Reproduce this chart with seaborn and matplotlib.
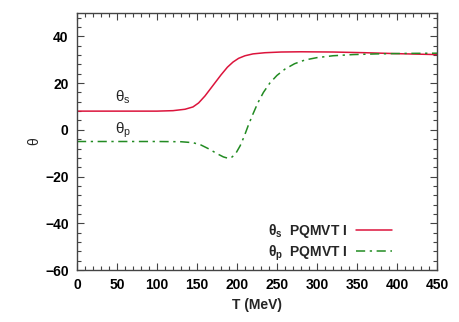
import numpy as np
import pandas as pd
import matplotlib.pyplot as plt
import matplotlib
import seaborn as sns

# values
T_s = [0, 50, 100, 120, 135, 145, 152, 160, 170, 180, 188, 195, 202, 210, 220, 235, 255, 280, 320, 360, 400, 450]
theta_s = [8, 8, 8, 8.2, 8.8, 9.8, 11.5, 14.5, 19, 23.5, 26.8, 29, 30.6, 31.7, 32.5, 33, 33.3, 33.4, 33.3, 33, 32.6, 32.2]

T_p = [0, 50, 100, 130, 145, 155, 165, 175, 183, 189, 194, 199, 204, 209, 214, 220, 226, 233, 241,
       250, 260, 272, 285, 300, 320, 345, 375, 410, 450]
theta_p = [-5, -5, -5, -5.1, -5.5, -6.5, -8.2, -10.2, -11.6, -12.2, -11.6, -9.8, -6.8, -2.8, 1.8, 6.8, 11.5, 16, 20,
           23.3, 26, 28.3, 29.9, 30.9, 31.7, 32.2, 32.5, 32.7, 32.8]

sns.set_style("ticks")
plt.rcParams['font.family'] = ['Liberation Sans', 'DejaVu Sans']

fig, ax = plt.subplots(figsize=(4.6, 3.22), dpi=100)
plt.gcf().subplots_adjust(left=77/460, right=437/460, top=1-13/322, bottom=1-270/322)

df_s = pd.DataFrame({'T': T_s, 'theta': theta_s})
df_p = pd.DataFrame({'T': T_p, 'theta': theta_p})
sns.lineplot(data=df_s, x='T', y='theta', color='#dc143c', lw=1.1, ax=ax,
             label=r'θ$_\mathregular{s}$  PQMVT I')
sns.lineplot(data=df_p, x='T', y='theta', color='#228b22', lw=1.1, ax=ax,
             label=r'θ$_\mathregular{p}$  PQMVT I')
ax.get_lines()[1].set_linestyle((0, (6, 3, 1.5, 3)))

ax.set_xlim(0, 450)
ax.set_ylim(-60, 50)
ax.xaxis.set_major_locator(matplotlib.ticker.MultipleLocator(50))
ax.xaxis.set_minor_locator(matplotlib.ticker.MultipleLocator(10))
ax.yaxis.set_major_locator(matplotlib.ticker.MultipleLocator(20))
ax.yaxis.set_minor_locator(matplotlib.ticker.MultipleLocator(4))
ax.tick_params(which='both', direction='in', top=True, right=True, color='#444444', width=0.8)
ax.tick_params(which='major', length=5, labelsize=10, pad=6, labelcolor='black')
ax.tick_params(which='minor', length=3)
for lab in ax.get_xticklabels() + ax.get_yticklabels():
    lab.set_fontweight('bold')
for sp in ax.spines.values():
    sp.set_color('#444444')
    sp.set_linewidth(1)

ax.set_xlabel('T (MeV)', fontsize=10, fontweight='bold', labelpad=4)
ax.set_ylabel('θ', fontsize=10, labelpad=3)

ax.text(57, 14, r'θ$_\mathregular{s}$', fontsize=11, ha='center', va='center')
ax.text(57, 0, r'θ$_\mathregular{p}$', fontsize=11, ha='center', va='center')

leg = ax.legend(loc='lower right', bbox_to_anchor=(0.91, -0.02), frameon=False,
                markerfirst=False, handlelength=2.6, fontsize=10, labelspacing=0.25,
                handletextpad=0.6)
for t in leg.get_texts():
    t.set_fontweight('bold')

plt.savefig('out.png', dpi=100)
